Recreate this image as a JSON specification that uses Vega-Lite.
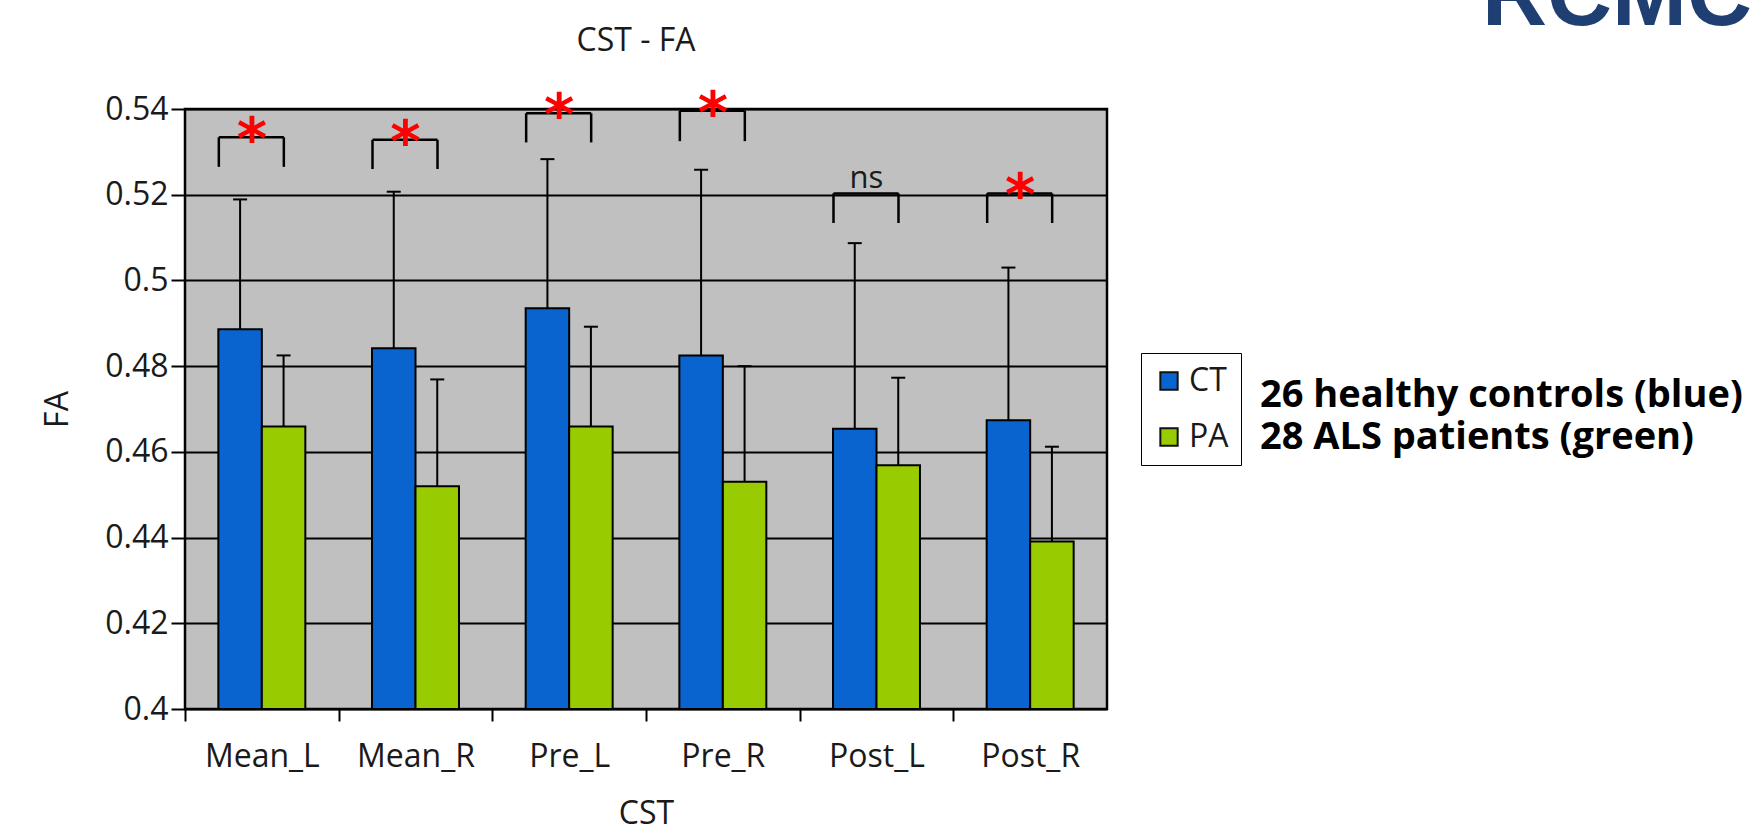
{
  "$schema": "https://vega.github.io/schema/vega-lite/v6.json",
  "autosize": {"type": "none"},
  "width": 922,
  "height": 600,
  "padding": {"left": 185, "top": 109, "right": 645, "bottom": 124},
  "background": "white",
  "title": {"text": "CST - FA", "anchor": "middle", "frame": "group", "font": "Open Sans", "fontSize": 32, "fontWeight": "normal", "color": "#1a1a1a", "baseline": "alphabetic", "offset": -151, "dx": -10},
  "config": {
    "view": {"fill": "#c0c0c0", "stroke": "#000000", "strokeWidth": 2.5},
    "axis": {"labelFont": "Open Sans", "titleFont": "Open Sans", "labelColor": "#1a1a1a", "titleColor": "#1a1a1a", "labelFontSize": 32, "titleFontSize": 32, "titleFontWeight": "normal", "tickColor": "#000000", "tickWidth": 2, "domain": false}
  },
  "datasets": {
    "bars": [
      {"cst": "Mean_L", "group": "CT", "cohort": "26 healthy controls (blue)", "fa": 0.4886, "err": 0.5189},
      {"cst": "Mean_L", "group": "PA", "cohort": "28 ALS patients (green)", "fa": 0.4659, "err": 0.4825},
      {"cst": "Mean_R", "group": "CT", "cohort": "26 healthy controls (blue)", "fa": 0.4842, "err": 0.5207},
      {"cst": "Mean_R", "group": "PA", "cohort": "28 ALS patients (green)", "fa": 0.4520, "err": 0.4769},
      {"cst": "Pre_L", "group": "CT", "cohort": "26 healthy controls (blue)", "fa": 0.4935, "err": 0.5283},
      {"cst": "Pre_L", "group": "PA", "cohort": "28 ALS patients (green)", "fa": 0.4659, "err": 0.4892},
      {"cst": "Pre_R", "group": "CT", "cohort": "26 healthy controls (blue)", "fa": 0.4825, "err": 0.5258},
      {"cst": "Pre_R", "group": "PA", "cohort": "28 ALS patients (green)", "fa": 0.4530, "err": 0.4800},
      {"cst": "Post_L", "group": "CT", "cohort": "26 healthy controls (blue)", "fa": 0.4654, "err": 0.5087},
      {"cst": "Post_L", "group": "PA", "cohort": "28 ALS patients (green)", "fa": 0.4569, "err": 0.4773},
      {"cst": "Post_R", "group": "CT", "cohort": "26 healthy controls (blue)", "fa": 0.4674, "err": 0.5030},
      {"cst": "Post_R", "group": "PA", "cohort": "28 ALS patients (green)", "fa": 0.4391, "err": 0.4612}
    ],
    "brackets": [
      {"cst": "Mean_L", "top": 0.5334, "leg": 0.5265, "sig": "*"},
      {"cst": "Mean_R", "top": 0.5328, "leg": 0.5260, "sig": "*"},
      {"cst": "Pre_L", "top": 0.5390, "leg": 0.5322, "sig": "*"},
      {"cst": "Pre_R", "top": 0.5396, "leg": 0.5325, "sig": "*"},
      {"cst": "Post_L", "top": 0.5203, "leg": 0.5134, "sig": "ns"},
      {"cst": "Post_R", "top": 0.5203, "leg": 0.5134, "sig": "*"}
    ]
  },
  "encoding": {
    "x": {
      "field": "cst", "type": "nominal",
      "sort": ["Mean_L", "Mean_R", "Pre_L", "Pre_R", "Post_L", "Post_R"],
      "scale": {"domain": ["Mean_L", "Mean_R", "Pre_L", "Pre_R", "Post_L", "Post_R"], "paddingInner": 0.434, "paddingOuter": 0.217},
      "axis": {"title": "CST", "labelAngle": 0, "tickOffset": -76.83, "labelOffset": 76.83, "tickSize": 12, "labelPadding": 20, "titlePadding": 26, "grid": false}
    }
  },
  "layer": [
    {
      "data": {"name": "bars"},
      "mark": {"type": "bar", "stroke": "#000000", "strokeWidth": 2},
      "encoding": {
        "xOffset": {"field": "group", "type": "nominal", "sort": ["CT", "PA"]},
        "y": {
          "field": "fa", "type": "quantitative",
          "scale": {"domain": [0.4, 0.54], "zero": false, "nice": false},
          "axis": {"title": "FA", "values": [0.4, 0.42, 0.44, 0.46, 0.48, 0.5, 0.52, 0.54], "format": ".2~f", "grid": true, "gridColor": "#000000", "gridWidth": 2, "gridOpacity": 1, "tickSize": 14, "labelPadding": 3, "titlePadding": 30}
        },
        "y2": {"datum": 0.4},
        "color": {
          "field": "group", "type": "nominal",
          "scale": {"domain": ["CT", "PA"], "range": ["#0a64cf", "#99cc00"]},
          "legend": {"title": null, "orient": "none", "legendX": 956, "legendY": 244, "fillColor": "#ffffff", "strokeColor": "#000000", "padding": 12, "symbolType": "square", "symbolSize": 300, "symbolStrokeColor": "#111111", "symbolStrokeWidth": 2, "labelFont": "Open Sans", "labelFontSize": 32, "labelColor": "#1a1a1a", "labelOffset": 4, "rowPadding": 24, "zindex": 2}
        },
        "opacity": {
          "field": "cohort", "type": "nominal",
          "scale": {"range": [1, 1]},
          "legend": {"title": "RCMC", "orient": "none", "legendX": 1015, "legendY": -177, "fillColor": "#ffffff", "padding": 22, "symbolSize": 0, "symbolStrokeWidth": 0, "labelOffset": 0, "labelFont": "Open Sans", "labelFontWeight": "bold", "labelFontSize": 38, "labelColor": "#000000", "labelLimit": 1000, "rowPadding": 4, "titleFont": "Liberation Sans", "titleFontWeight": "bold", "titleFontSize": 90, "titleColor": "#1f3f73", "titleAnchor": "middle", "titleAlign": "left", "titleBaseline": "top", "titlePadding": 333, "titleLimit": 2000, "zindex": 1}
        }
      }
    },
    {
      "data": {"name": "bars"},
      "mark": {"type": "rule", "color": "#000000", "strokeWidth": 2},
      "encoding": {
        "xOffset": {"field": "group", "type": "nominal", "sort": ["CT", "PA"]},
        "y": {"field": "fa", "type": "quantitative", "scale": {"domain": [0.4, 0.54], "zero": false, "nice": false}, "axis": {"title": "FA", "values": [0.4, 0.42, 0.44, 0.46, 0.48, 0.5, 0.52, 0.54], "format": ".2~f", "grid": true, "gridColor": "#000000", "gridWidth": 2, "gridOpacity": 1, "tickSize": 14, "labelPadding": 3, "titlePadding": 30}},
        "y2": {"field": "err"}
      }
    },
    {
      "data": {"name": "bars"},
      "mark": {"type": "tick", "orient": "horizontal", "size": 14, "thickness": 2, "color": "#000000", "opacity": 1},
      "encoding": {
        "xOffset": {"field": "group", "type": "nominal", "sort": ["CT", "PA"]},
        "y": {"field": "err", "type": "quantitative", "scale": {"domain": [0.4, 0.54], "zero": false, "nice": false}, "axis": {"title": "FA", "values": [0.4, 0.42, 0.44, 0.46, 0.48, 0.5, 0.52, 0.54], "format": ".2~f", "grid": true, "gridColor": "#000000", "gridWidth": 2, "gridOpacity": 1, "tickSize": 14, "labelPadding": 3, "titlePadding": 30}}
      }
    },
    {
      "data": {"name": "brackets"},
      "mark": {"type": "rule", "color": "#000000", "strokeWidth": 2.5, "xOffset": -43, "x2Offset": 22},
      "encoding": {
        "x2": {"field": "cst"},
        "y": {"field": "top", "type": "quantitative", "scale": {"domain": [0.4, 0.54], "zero": false, "nice": false}, "axis": {"title": "FA", "values": [0.4, 0.42, 0.44, 0.46, 0.48, 0.5, 0.52, 0.54], "format": ".2~f", "grid": true, "gridColor": "#000000", "gridWidth": 2, "gridOpacity": 1, "tickSize": 14, "labelPadding": 3, "titlePadding": 30}}
      }
    },
    {
      "data": {"name": "brackets"},
      "mark": {"type": "rule", "color": "#000000", "strokeWidth": 2.5, "xOffset": -43},
      "encoding": {
        "y": {"field": "top", "type": "quantitative", "scale": {"domain": [0.4, 0.54], "zero": false, "nice": false}, "axis": {"title": "FA", "values": [0.4, 0.42, 0.44, 0.46, 0.48, 0.5, 0.52, 0.54], "format": ".2~f", "grid": true, "gridColor": "#000000", "gridWidth": 2, "gridOpacity": 1, "tickSize": 14, "labelPadding": 3, "titlePadding": 30}},
        "y2": {"field": "leg"}
      }
    },
    {
      "data": {"name": "brackets"},
      "mark": {"type": "rule", "color": "#000000", "strokeWidth": 2.5, "xOffset": 22},
      "encoding": {
        "y": {"field": "top", "type": "quantitative", "scale": {"domain": [0.4, 0.54], "zero": false, "nice": false}, "axis": {"title": "FA", "values": [0.4, 0.42, 0.44, 0.46, 0.48, 0.5, 0.52, 0.54], "format": ".2~f", "grid": true, "gridColor": "#000000", "gridWidth": 2, "gridOpacity": 1, "tickSize": 14, "labelPadding": 3, "titlePadding": 30}},
        "y2": {"field": "leg"}
      }
    },
    {
      "data": {"name": "brackets"},
      "transform": [{"filter": "datum.sig === '*'"}],
      "mark": {"type": "text", "font": "DejaVu Sans", "fontWeight": "bold", "fontSize": 58, "color": "#ff0000", "baseline": "alphabetic", "align": "center", "dy": 22, "xOffset": -10},
      "encoding": {
        "y": {"field": "top", "type": "quantitative", "scale": {"domain": [0.4, 0.54], "zero": false, "nice": false}, "axis": {"title": "FA", "values": [0.4, 0.42, 0.44, 0.46, 0.48, 0.5, 0.52, 0.54], "format": ".2~f", "grid": true, "gridColor": "#000000", "gridWidth": 2, "gridOpacity": 1, "tickSize": 14, "labelPadding": 3, "titlePadding": 30}},
        "text": {"field": "sig"}
      }
    },
    {
      "data": {"name": "brackets"},
      "transform": [{"filter": "datum.sig === 'ns'"}],
      "mark": {"type": "text", "font": "Open Sans", "fontSize": 31, "color": "#1a1a1a", "baseline": "alphabetic", "align": "center", "dy": -5, "xOffset": -10},
      "encoding": {
        "y": {"field": "top", "type": "quantitative", "scale": {"domain": [0.4, 0.54], "zero": false, "nice": false}, "axis": {"title": "FA", "values": [0.4, 0.42, 0.44, 0.46, 0.48, 0.5, 0.52, 0.54], "format": ".2~f", "grid": true, "gridColor": "#000000", "gridWidth": 2, "gridOpacity": 1, "tickSize": 14, "labelPadding": 3, "titlePadding": 30}},
        "text": {"field": "sig"}
      }
    }
  ]
}
